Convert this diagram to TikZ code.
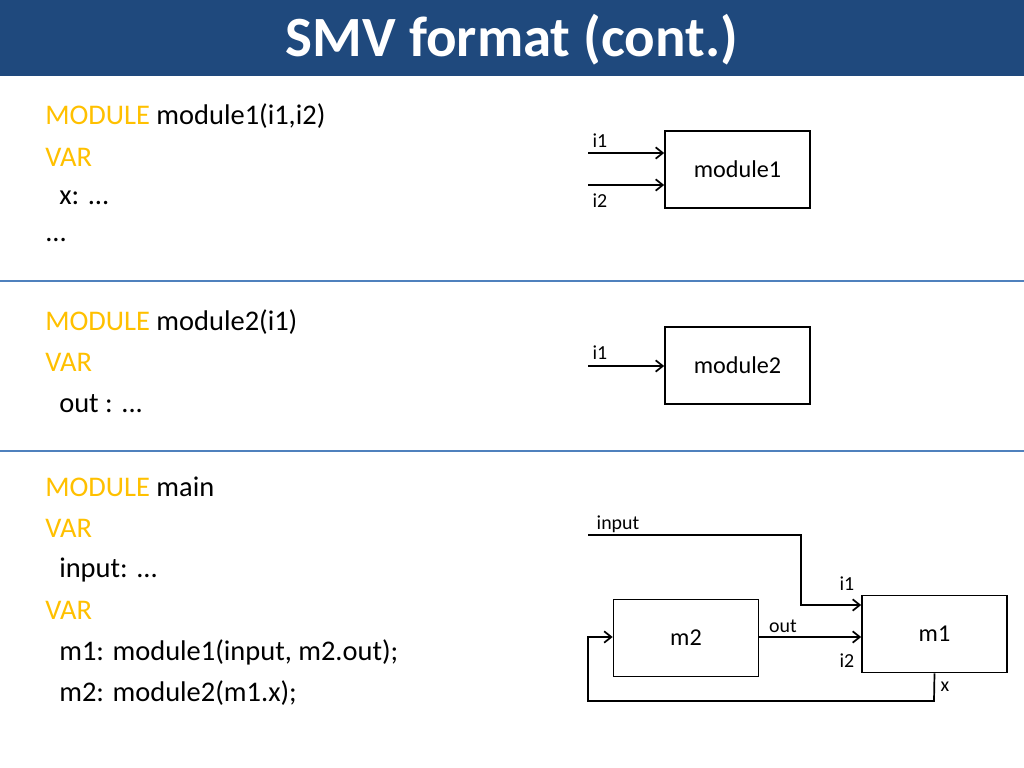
\documentclass[tikz,border=0pt]{standalone}
\usepackage{fontspec}
\setmainfont{Carlito}
\usetikzlibrary{arrows.meta}
\definecolor{titleblue}{HTML}{1F497D}
\definecolor{sepblue}{HTML}{4F81BD}
\definecolor{kw}{HTML}{FFC000}
\begin{document}
\begin{tikzpicture}[x=0.703pt,y=-0.703pt,
  box/.style={draw,line width=1.2pt,minimum width=145*0.703pt,minimum height=77*0.703pt,inner sep=0pt,font=\fontsize{17}{20}\selectfont},
  code/.style={anchor=west,inner sep=0pt,font=\fontsize{20}{24}\selectfont},
  lbl/.style={inner sep=0pt,font=\fontsize{14}{16}\selectfont},
  wire/.style={line width=1.2pt},
  arr/.style={wire,-{Straight Barb[length=5pt,width=8pt]}}]
\useasboundingbox (0,0) rectangle (1024,768);
\fill[titleblue] (0,0) rectangle (1024,76);
\node[text=white,font=\bfseries\fontsize{40}{44}\selectfont] (title) at (512,40) {SMV format (cont.)};
\draw[sepblue,line width=1.2pt] (0,281) -- (1024,281);
\draw[sepblue,line width=1.2pt] (0,451) -- (1024,451);
% code
\node[code] (c1) at (45,116) {\textcolor{kw}{MODULE} module1(i1,i2)};
\node[code] (c2) at (45,157) {\textcolor{kw}{VAR}};
\node[code] (c3) at (59,198) {x: ...};
\node[code] (c4) at (45,240) {...};
\node[code] (d1) at (45,322) {\textcolor{kw}{MODULE} module2(i1)};
\node[code] (d2) at (45,362) {\textcolor{kw}{VAR}};
\node[code] (d3) at (59,404) {out : ...};
\node[code] (e1) at (45,487) {\textcolor{kw}{MODULE} main};
\node[code] (e2) at (45,528) {\textcolor{kw}{VAR}};
\node[code] (e3) at (59,570) {input: ...};
\node[code] (e4) at (45,610) {\textcolor{kw}{VAR}};
\node[code] (e5) at (59,652) {m1: module1(input, m2.out);};
\node[code] (e6) at (59,693) {m2: module2(m1.x);};
% diagram 1
\node[box] (mod1) at (737.5,169.5) {module1};
\coordinate (a1) at (588,153);
\coordinate (a2) at (588,185);
\draw[arr] (a1) -- (mod1.west |- a1);
\draw[arr] (a2) -- (mod1.west |- a2);
\node[lbl] (l1) at (600,141) {i1};
\node[lbl] (l2) at (600,201) {i2};
% diagram 2
\node[box] (mod2) at (737.5,365.5) {module2};
\coordinate (b1) at (588,366);
\draw[arr] (b1) -- (mod2.west |- b1);
\node[lbl] (l3) at (600,353) {i1};
% diagram 3
\node[box] (m2) at (686,638) {m2};
\node[box] (m1) at (934.5,634) {m1};
\coordinate (in0) at (588,535);
\coordinate (in1) at (801,535);
\coordinate (in2) at (801,605);
\draw[arr] (in0) -- (in1) -- (in2) -- (m1.west |- in2);
\draw[arr] (m2.east |- 0,637) -- (m1.west |- 0,637);
\coordinate (x1) at (934,701);
\coordinate (x2) at (588,701);
\coordinate (x3) at (588,637);
\draw[arr] (m1.south) -- (x1) -- (x2) -- (x3) -- (m2.west |- x3);
\node[lbl] (l4) at (618,524) {input};
\node[lbl] (l5) at (847,584) {i1};
\node[lbl] (l6) at (783,626) {out};
\node[lbl] (l7) at (847,661) {i2};
\node[lbl] (l8) at (945,687) {x};
\end{tikzpicture}
\end{document}
